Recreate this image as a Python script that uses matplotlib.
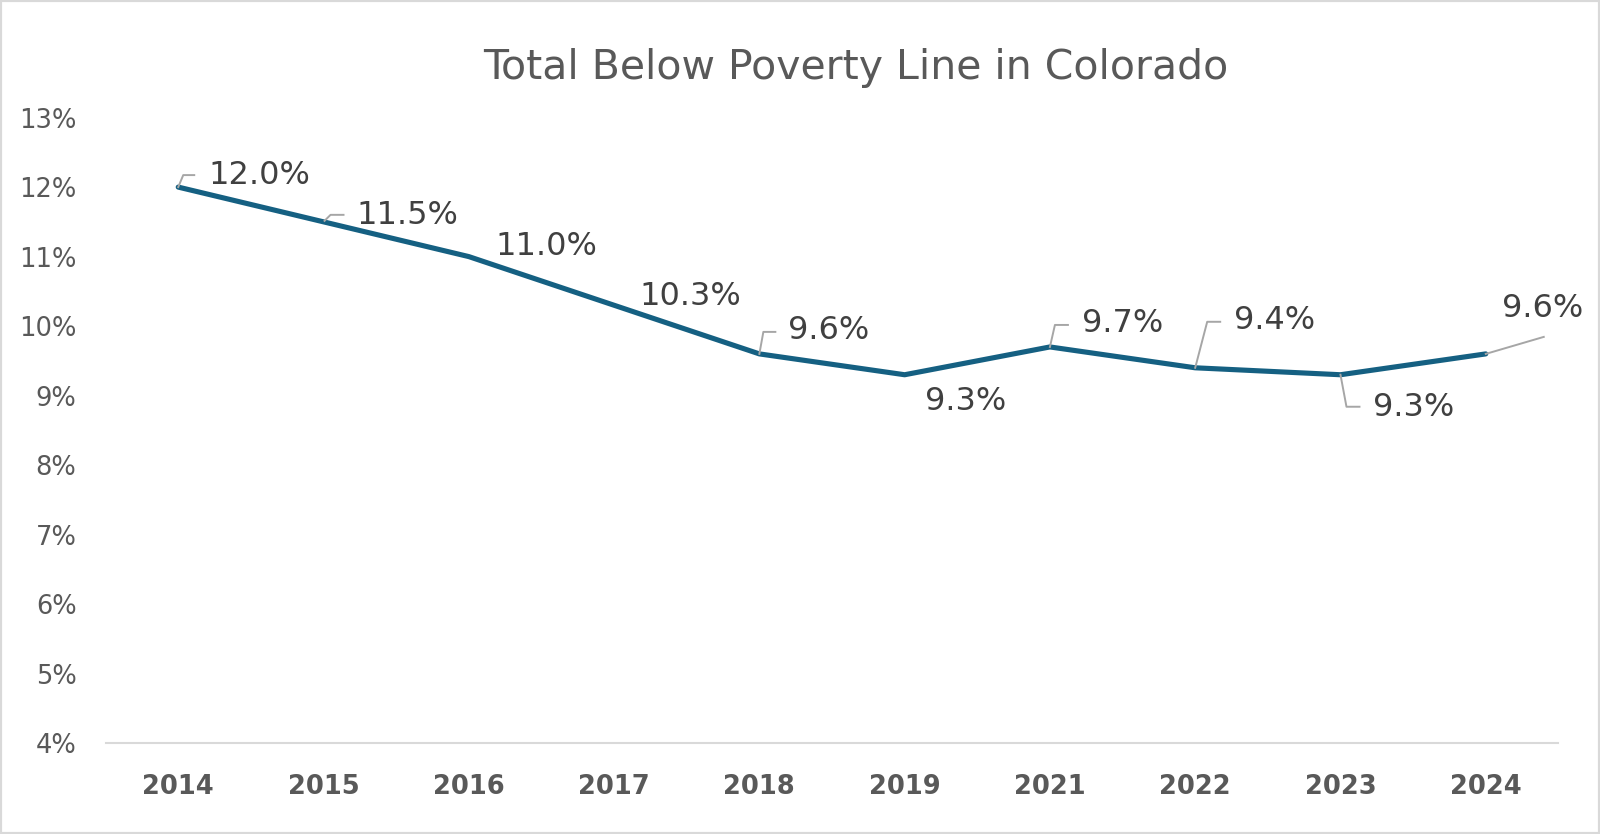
import matplotlib.pyplot as plt
from matplotlib.patches import Rectangle
from matplotlib.lines import Line2D

years = ['2014', '2015', '2016', '2017', '2018', '2019', '2021', '2022', '2023', '2024']
poverty = [12.0, 11.5, 11.0, 10.3, 9.6, 9.3, 9.7, 9.4, 9.3, 9.6]
yticks = [4, 5, 6, 7, 8, 9, 10, 11, 12, 13]

# label placement in pixels relative to the point: text offset, ha, leader path
label_pos = [
    ((30, 12), 'left', [(0, 0), (5, 12), (16, 12)]),
    ((33, 6), 'left', [(1, 1), (7, 7), (20, 7)]),
    ((27, 10), 'left', None),
    ((25, 9), 'left', None),
    ((29, 23), 'left', [(0, 0), (4, 22), (16, 22)]),
    ((20, -27), 'left', None),
    ((32, 23), 'left', [(0, 0), (5, 22), (18, 22)]),
    ((39, 47), 'left', [(0, 0), (12, 46), (25, 46)]),
    ((33, -33), 'left', [(0, 0), (6, -32), (19, -32)]),
    ((57, 45), 'center', [(0, 0), (58, 17)]),
]

line_col = '#156082'
text_col = '#404040'
axis_col = '#595959'

fig = plt.figure(figsize=(16, 8.34), dpi=100)
fig.patches.append(Rectangle((0, 0), 1, 1, transform=fig.transFigure,
                             fill=False, edgecolor='#d9d9d9', linewidth=3))
ax = fig.add_axes([0.066, 0.109, 0.908, 0.750])

x = list(range(len(years)))
ax.plot(x, poverty, color=line_col, linewidth=3.7, solid_capstyle='round',
        solid_joinstyle='round', zorder=3)
ax.set_xlim(-0.5, len(years) - 0.5)
ax.set_ylim(4, 13)
ax.set_yticks(yticks)
ax.set_yticklabels([f'{t}%' for t in yticks], fontsize=18.5, color=axis_col)
ax.set_xticks(x)
ax.set_xticklabels(years, fontsize=18.5, fontweight='bold', color=axis_col)
ax.tick_params(length=0)
ax.tick_params(axis='x', pad=22)
ax.tick_params(axis='y', pad=21)
for s in ['top', 'right', 'left']:
    ax.spines[s].set_visible(False)
ax.spines['bottom'].set_color('#d9d9d9')
ax.spines['bottom'].set_linewidth(1.5)

fig.text(0.535, 0.919, 'Total Below Poverty Line in Colorado', fontsize=29.5,
         color=axis_col, ha='center', va='center')

fig.canvas.draw()
px = 72.0 / fig.dpi
for i, (v, (toff, ha, leader)) in enumerate(zip(poverty, label_pos)):
    ax.annotate(f'{v:.1f}%', xy=(i, v), xytext=(toff[0] * px, toff[1] * px),
                textcoords='offset points', ha=ha, va='center',
                fontsize=23, color=text_col, zorder=4)
    if leader:
        bx, by = ax.transData.transform((i, v))
        xs = [(bx + dx) / fig.bbox.width for dx, dy in leader]
        ys = [(by + dy) / fig.bbox.height for dx, dy in leader]
        fig.add_artist(Line2D(xs, ys, color='#a6a6a6', linewidth=1.4, zorder=2))

fig.savefig('out.png', dpi=100)
